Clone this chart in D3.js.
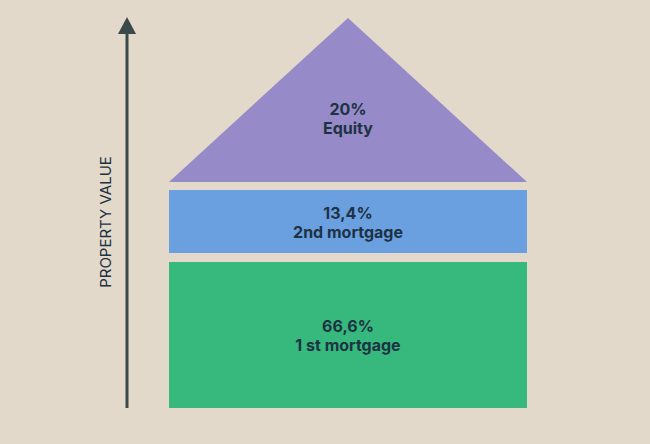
<!DOCTYPE html><html><head><meta charset="utf-8"><script src="https://d3js.org/d3.v7.min.js"></script>
<style>body{margin:0;background:#e3d9cb}</style></head><body><svg width="650" height="444"></svg><script>
const categories=["1 st mortgage","2nd mortgage","Equity"];
const labels=["66,6%","13,4%","20%"];
const values=[66.6,13.4,20];
const colors=["#37b87c","#6a9fe0","#968ac8"];
const axisLabel="PROPERTY VALUE";
const svg=d3.select("svg");
const x=d3.scaleLinear().domain([0,1]).range([169,527]);
// vertical layout: layer boundaries (illustrative, not proportional)
const y=d3.scaleOrdinal().domain(categories).range([[262,408],[190,253],[18,182]]);
const font="Inter, 'Open Sans', sans-serif";
categories.forEach((c,i)=>{
  const [y0,y1]=y(c);
  if(i<2){
    svg.append("rect").attr("x",x(0)).attr("y",y0).attr("width",x(1)-x(0)).attr("height",y1-y0).attr("fill",colors[i]);
  } else {
    svg.append("path").attr("d",d3.line()([[x(0.5),y0],[x(1),y1],[x(0),y1]])+"Z").attr("fill",colors[i]);
  }
  const cy=i<2?(y0+y1)/2:y0+100;
  const t=svg.append("text").attr("x",x(0.5)).attr("text-anchor","middle").attr("fill","#1d3242")
    .attr("font-family",font).attr("font-weight",700).attr("font-size",16);
  t.append("tspan").attr("x",x(0.5)).attr("y",cy-3).text(labels[i]);
  t.append("tspan").attr("x",x(0.5)).attr("y",cy+16).text(c);
});
svg.append("line").attr("x1",127).attr("x2",127).attr("y1",408).attr("y2",30).attr("stroke","#3a4a4a").attr("stroke-width",3);
svg.append("path").attr("d","M127,17 L136,34 L118,34 Z").attr("fill","#3a4a4a");
svg.append("text").attr("transform","translate(111,222) rotate(-90)").attr("text-anchor","middle")
  .attr("font-family",font).attr("font-size",15).attr("fill","#1d3242").text(axisLabel);
</script></body></html>
